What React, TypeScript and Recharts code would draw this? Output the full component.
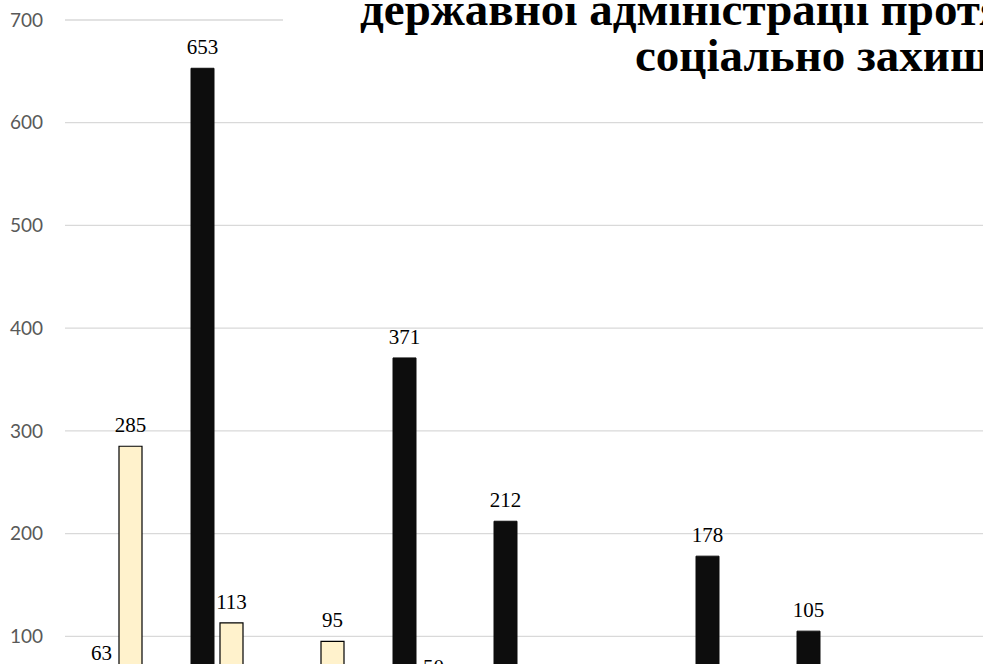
import React from 'react';
import { BarChart, Bar, XAxis, YAxis, CartesianGrid, LabelList } from 'recharts';

const categories = ['1', '2', '3', '4', '5', '6', '7', '8', '9'];
const blackValues = [63, 653, 30, 371, 212, 25, 178, 105, 20];
const creamValues = [285, 113, 95, 50, 30, 20, 15, 10, 10];
const yTicks = [0, 100, 200, 300, 400, 500, 600, 700];
const titleLines = ['державної адміністрації протягом', 'соціально захищених'];

const data = categories.map((c, i) => ({ name: c, black: blackValues[i], cream: creamValues[i] }));

const labelStyle = { fontFamily: '"Liberation Serif", "Times New Roman", serif', fontSize: 21, fill: '#000' };
const titleStyle = { fontFamily: '"Liberation Serif", "Times New Roman", serif', fontWeight: 'bold' as const, fontSize: 47, fill: '#000' };

export default function App() {
  return (
    <div style={{ position: 'fixed', left: 0, top: 0, width: 983, height: 664, overflow: 'hidden', background: '#fff' }}>
      <BarChart
        width={1100}
        height={749}
        data={data}
        margin={{ top: 20, right: 0, bottom: 10, left: 0 }}
        barSize={23}
        barGap={6}
      >
        <CartesianGrid horizontal vertical={false} stroke="#d9d9d9" strokeWidth={1.3} />
        <XAxis dataKey="name" hide padding={{ left: 0, right: 126 }} />
        <YAxis
          width={65}
          domain={[0, 700]}
          ticks={yTicks}
          axisLine={false}
          tickLine={false}
          tickMargin={16}
          tick={{ fontFamily: 'Lato, sans-serif', fontSize: 19, fill: '#595959' }}
        />
        <Bar dataKey="black" fill="#0d0d0d" stroke="#0d0d0d" strokeWidth={1} isAnimationActive={false}>
          <LabelList dataKey="black" position="top" offset={14} style={labelStyle} />
        </Bar>
        <Bar dataKey="cream" fill="#fff2cc" stroke="#000" strokeWidth={1.2} isAnimationActive={false}>
          <LabelList dataKey="cream" position="top" offset={14} style={labelStyle} />
        </Bar>
      </BarChart>
      <svg width={983} height={664} style={{ position: 'absolute', left: 0, top: 0, pointerEvents: 'none' }}>
        <rect x={283} y={0} width={700} height={90} fill="#fff" />
        <text x={360} y={25} style={titleStyle}>
          {titleLines[0]}
        </text>
        <text x={635} y={71} style={titleStyle}>
          {titleLines[1]}
        </text>
      </svg>
    </div>
  );
}
